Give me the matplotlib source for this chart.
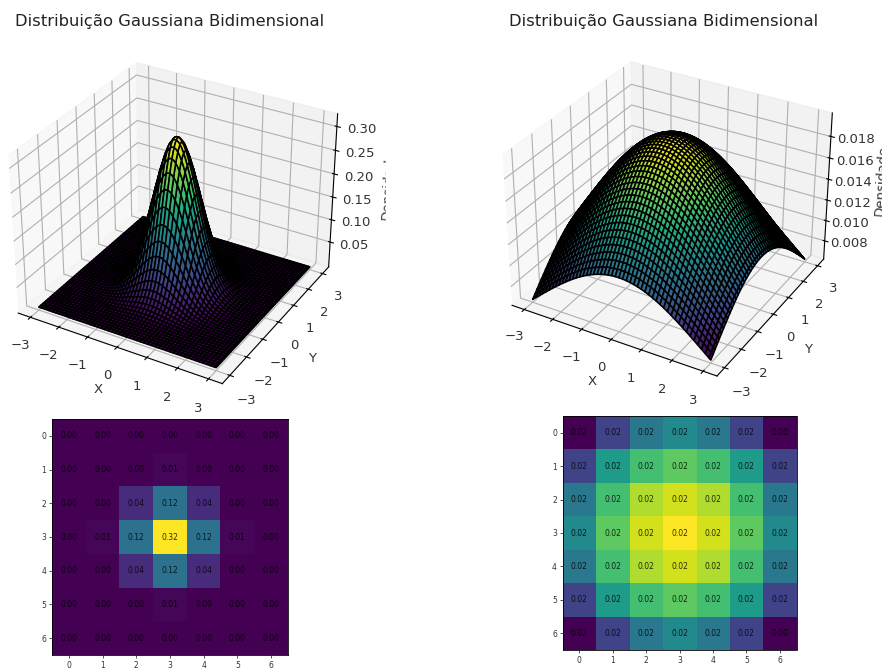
import numpy as np
import matplotlib
matplotlib.use("Agg")
import matplotlib.pyplot as plt
from matplotlib.patches import Rectangle

W, H = 882, 670
TITLE = "Distribuição Gaussiana Bidimensional"
# Surfaces: the plotted quantity is a 2-D Gaussian density; widths read from peak heights.
SIGMA_NARROW = 0.705
SIGMA_WIDE = 2.83
X_RANGE = (-3, 3)
N_SURF = 100
TICKS_XY = [-3, -2, -1, 0, 1, 2, 3]
Z_TICKS_L = [0.05, 0.10, 0.15, 0.20, 0.25, 0.30]
Z_TICKS_R = [0.008, 0.010, 0.012, 0.014, 0.016, 0.018]
HEAT_TICKS = [0, 1, 2, 3, 4, 5, 6]

HEAT_L = [
    [0.00, 0.00, 0.00, 0.00, 0.00, 0.00, 0.00],
    [0.00, 0.00, 0.00, 0.006, 0.00, 0.00, 0.00],
    [0.00, 0.00, 0.04, 0.12, 0.04, 0.00, 0.00],
    [0.00, 0.006, 0.12, 0.32, 0.12, 0.006, 0.00],
    [0.00, 0.00, 0.04, 0.12, 0.04, 0.00, 0.00],
    [0.00, 0.00, 0.00, 0.006, 0.00, 0.00, 0.00],
    [0.00, 0.00, 0.00, 0.00, 0.00, 0.00, 0.00],
]
HEAT_R = [
    [.0066, .0093, .0119, .0129, .0119, .0093, .0066],
    [.0093, .0139, .0159, .0166, .0159, .0139, .0093],
    [.0119, .0159, .0183, .0190, .0183, .0159, .0119],
    [.0129, .0166, .0190, .0199, .0190, .0166, .0129],
    [.0119, .0159, .0183, .0190, .0183, .0159, .0119],
    [.0093, .0139, .0159, .0166, .0159, .0139, .0093],
    [.0066, .0093, .0119, .0129, .0119, .0093, .0066],
]
LABELS_R = [
    ["0.02", "0.02", "0.02", "0.02", "0.02", "0.02", "0.00"],
    ["0.02"] * 7, ["0.02"] * 7, ["0.02"] * 7, ["0.02"] * 7, ["0.02"] * 7,
    ["0.02", "0.02", "0.02", "0.02", "0.02", "0.02", "0.00"],
]
TXT = "#333333"

def rect(x0, y0, x1, y1):
    return [x0 / W, 1 - y1 / H, (x1 - x0) / W, (y1 - y0) / H]

def density(sigma):
    g = np.linspace(*X_RANGE, N_SURF)
    X, Y = np.meshgrid(g, g)
    return X, Y, np.exp(-(X**2 + Y**2) / (2 * sigma**2)) / (2 * np.pi * sigma**2)

def surf(box, sigma, zticks, title_x, zpad, title_pad, zaspect):
    ax = fig.add_axes(rect(*box), projection="3d")
    ax.view_init(elev=31, azim=-60)
    ax.set_proj_type("persp", focal_length=0.8)
    ax.set_box_aspect((4, 4, zaspect))
    X, Y, Z = density(sigma)
    ax.plot_surface(X, Y, Z, cmap="viridis", edgecolor="k", linewidth=1.15, rcount=55, ccount=55)
    ax.set_title(TITLE, fontsize=11.8, pad=title_pad, x=title_x, color="#222222")
    ax.set_xlabel("X", labelpad=0, color=TXT, fontsize=9.5)
    ax.set_ylabel("Y", labelpad=2, color=TXT, fontsize=9.5)
    ax.set_zlabel("Densidade", labelpad=zpad, color=TXT, fontsize=9.5)
    ax.set_xticks(TICKS_XY); ax.set_yticks(TICKS_XY); ax.set_zticks(zticks)
    ax.tick_params(axis="x", labelsize=9.5, pad=3, labelcolor=TXT)
    ax.tick_params(axis="y", labelsize=9.5, pad=3, labelcolor=TXT)
    ax.tick_params(axis="z", labelsize=9.5, pad=3, labelcolor=TXT)
    return ax

def heat(box, vals, labels):
    ax = fig.add_axes(rect(*box))
    ax.set_zorder(20)
    ax.imshow(np.array(vals), cmap="viridis")
    ax.set_xticks(HEAT_TICKS); ax.set_yticks(HEAT_TICKS)
    ax.tick_params(labelsize=5.5, length=2, width=0.6, pad=2, labelcolor=TXT, color=TXT)
    for s in ax.spines.values():
        s.set_linewidth(0.6)
    for i, row in enumerate(labels):
        for j, t in enumerate(row):
            ax.text(j, i, t, ha="center", va="center", fontsize=5.5, color="k", alpha=0.8)

fig = plt.figure(figsize=(W / 100, H / 100), dpi=100)
surf((-11, 36, 355, 402), SIGMA_NARROW, Z_TICKS_L, 0.493, 4, 7, 3.1)
surf((485, 33, 848, 396), SIGMA_WIDE, Z_TICKS_R, 0.493, 3, 5, 2.95)
fig.add_artist(Rectangle((386 / W, 0), 90 / W, 1, transform=fig.transFigure,
                         color="white", zorder=10))
heat((52, 419, 288, 655), HEAT_L, [[f"{v:.2f}" for v in r] for r in HEAT_L])
heat((562, 416, 797, 650), HEAT_R, LABELS_R)
fig.savefig("out.png", dpi=100)
